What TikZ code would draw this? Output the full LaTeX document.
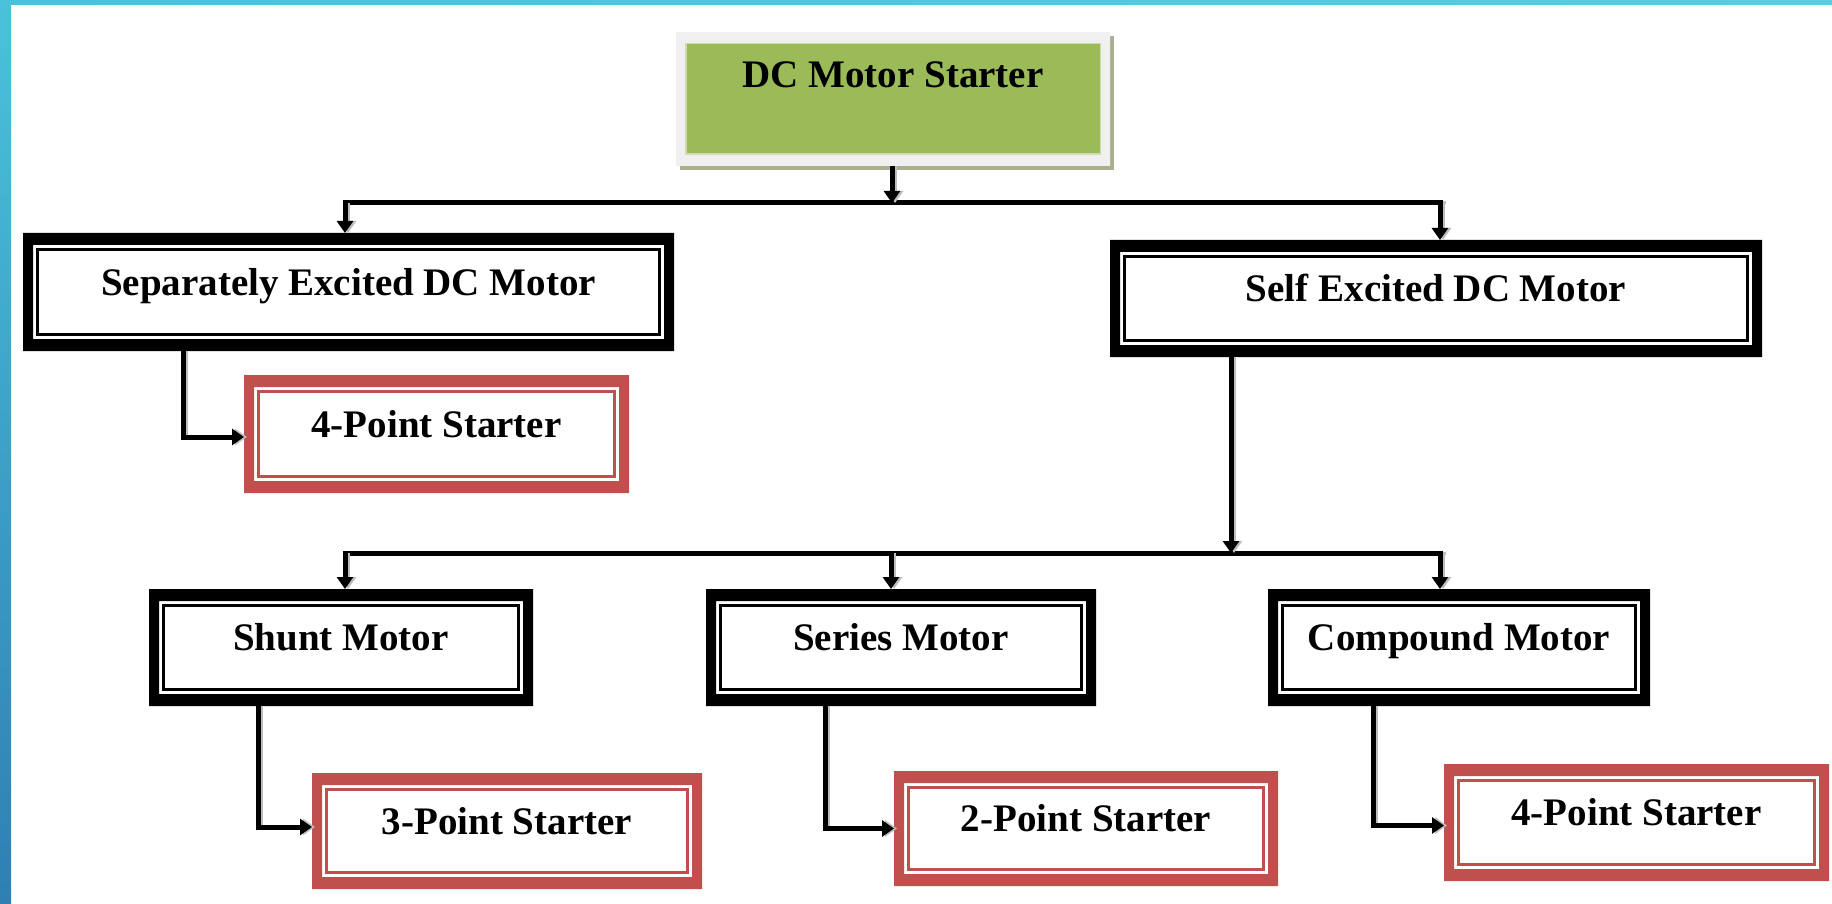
\documentclass[tikz,border=0pt]{standalone}
\usepackage{fontspec}
\setmainfont{Liberation Serif}
\usetikzlibrary{arrows.meta}

\definecolor{edgetop}{HTML}{4AC2DB}
\definecolor{edgebottom}{HTML}{2F7FB4}
\definecolor{edgeright}{HTML}{5BCBE0}
\definecolor{rootgreen}{HTML}{9BBB59}
\definecolor{rootband}{HTML}{F0F0F0}
\definecolor{rootline}{HTML}{CFDBB0}
\definecolor{rootshadow}{HTML}{A8AF91}
\definecolor{starterred}{HTML}{C0504D}
\definecolor{wireshadow}{HTML}{BDBDBD}

\begin{document}
\begin{tikzpicture}[x=1pt,y=-1pt,
  lbl/.style={font=\fontsize{39}{39}\selectfont\bfseries, align=center,
    inner sep=0pt, outer sep=0pt, text height=26pt, text depth=20pt},
  % thick outer band, white gap, thin inner rule
  framed/.style={lbl, fill=white,
    path picture={
      \path (path picture bounding box.south west) coordinate (pp-sw)
            (path picture bounding box.north east) coordinate (pp-ne);
      \fill[#1, even odd rule] (pp-sw) rectangle (pp-ne)
        ([shift={(10pt,12pt)}]pp-sw) rectangle ([shift={(-10pt,-12pt)}]pp-ne);
      \draw[#1, line width=3.2pt]
        ([shift={(14.6pt,16.6pt)}]pp-sw) rectangle ([shift={(-14.6pt,-16.6pt)}]pp-ne);
    }},
  motorbox/.style={framed=black},
  starterbox/.style={framed=starterred},
  rootbox/.style={lbl, fill=rootgreen, text height=10pt, text depth=32pt,
    path picture={
      \path (path picture bounding box.south west) coordinate (pp-sw)
            (path picture bounding box.north east) coordinate (pp-ne);
      \fill[rootband, even odd rule] (pp-sw) rectangle (pp-ne)
        ([shift={(9pt,11pt)}]pp-sw) rectangle ([shift={(-9pt,-11pt)}]pp-ne);
      \draw[rootline, line width=1.5pt]
        ([shift={(9.75pt,11.75pt)}]pp-sw) rectangle ([shift={(-9.75pt,-11.75pt)}]pp-ne);
    }},
  wire/.style={line width=5pt,
    preaction={draw=wireshadow, line width=3pt, transform canvas={xshift=3pt}}},
  conn/.style={wire, -{Triangle[length=12pt,width=16pt]}},
]
\useasboundingbox (0,0) rectangle (1832,904);
\fill[white] (0,0) rectangle (1832,904);

% coloured page edge
\shade[top color=edgetop, bottom color=edgebottom] (0,0) rectangle (11,904);
\shade[left color=edgetop, right color=edgeright] (0,0) rectangle (1832,5);

% root box with its drop shadow
\fill[rootshadow] (680,36) rectangle (1114,170);
\node[rootbox, minimum width=434pt, minimum height=134pt] (root) at (893,99) {DC Motor Starter};

% motor types
\node[motorbox, minimum width=651pt, minimum height=118pt] (sep)  at (348.5,292)  {Separately Excited DC Motor};
\node[motorbox, minimum width=652pt, minimum height=117pt] (self) at (1436,298.5) {Self Excited DC Motor};
\node[motorbox, minimum width=384pt, minimum height=117pt] (shunt)  at (341,647.5)  {Shunt Motor};
\node[motorbox, minimum width=390pt, minimum height=117pt] (series) at (901,647.5)  {Series Motor};
\node[motorbox, minimum width=382pt, minimum height=117pt] (comp)   at (1459,647.5) {Compound Motor};

% starters
\node[starterbox, minimum width=385pt, minimum height=118pt] (sfourA) at (436.5,434)  {4-Point Starter};
\node[starterbox, minimum width=390pt, minimum height=116pt] (sthree) at (507,831)    {3-Point Starter};
\node[starterbox, minimum width=384pt, minimum height=115pt] (stwo)   at (1086,828.5) {2-Point Starter};
\node[starterbox, minimum width=385pt, minimum height=117pt] (sfourB) at (1636.5,822.5) {4-Point Starter};

% first distribution bus
\coordinate (busAL) at (343,203);
\coordinate (busAR) at (1443,203);
\coordinate (busAmid) at (892,203);
\coordinate (dropA1) at (345,203);
\coordinate (dropA2) at (1440,203);
\draw[wire] (busAL) -- (busAR);
\draw[conn] ([xshift=-1pt]root.south) -- (busAmid);
\draw[conn] (dropA1) -- (dropA1 |- sep.north);
\draw[conn] (dropA2) -- (dropA2 |- self.north);

% second distribution bus
\coordinate (busBL) at (343,553);
\coordinate (busBR) at (1443,553);
\coordinate (busBin) at (1231,553);
\coordinate (dropB1) at (345,553);
\coordinate (dropB2) at (891,553);
\coordinate (dropB3) at (1440,553);
\draw[wire] (busBL) -- (busBR);
\draw[conn] ([xshift=121pt]self.south west) -- (busBin);
\draw[conn] (dropB1) -- (dropB1 |- shunt.north);
\draw[conn] (dropB2) -- (dropB2 |- series.north);
\draw[conn] (dropB3) -- (dropB3 |- comp.north);

% motor to starter links
\draw[conn] ([xshift=160pt]sep.south west) |- ([yshift=-3pt]sfourA.west);
\draw[conn] ([xshift=109pt]shunt.south west) |- ([yshift=4pt]sthree.west);
\draw[conn] ([xshift=119pt]series.south west) |- (stwo.west);
\draw[conn] ([xshift=105pt]comp.south west) |- ([yshift=-3pt]sfourB.west);
\end{tikzpicture}
\end{document}
